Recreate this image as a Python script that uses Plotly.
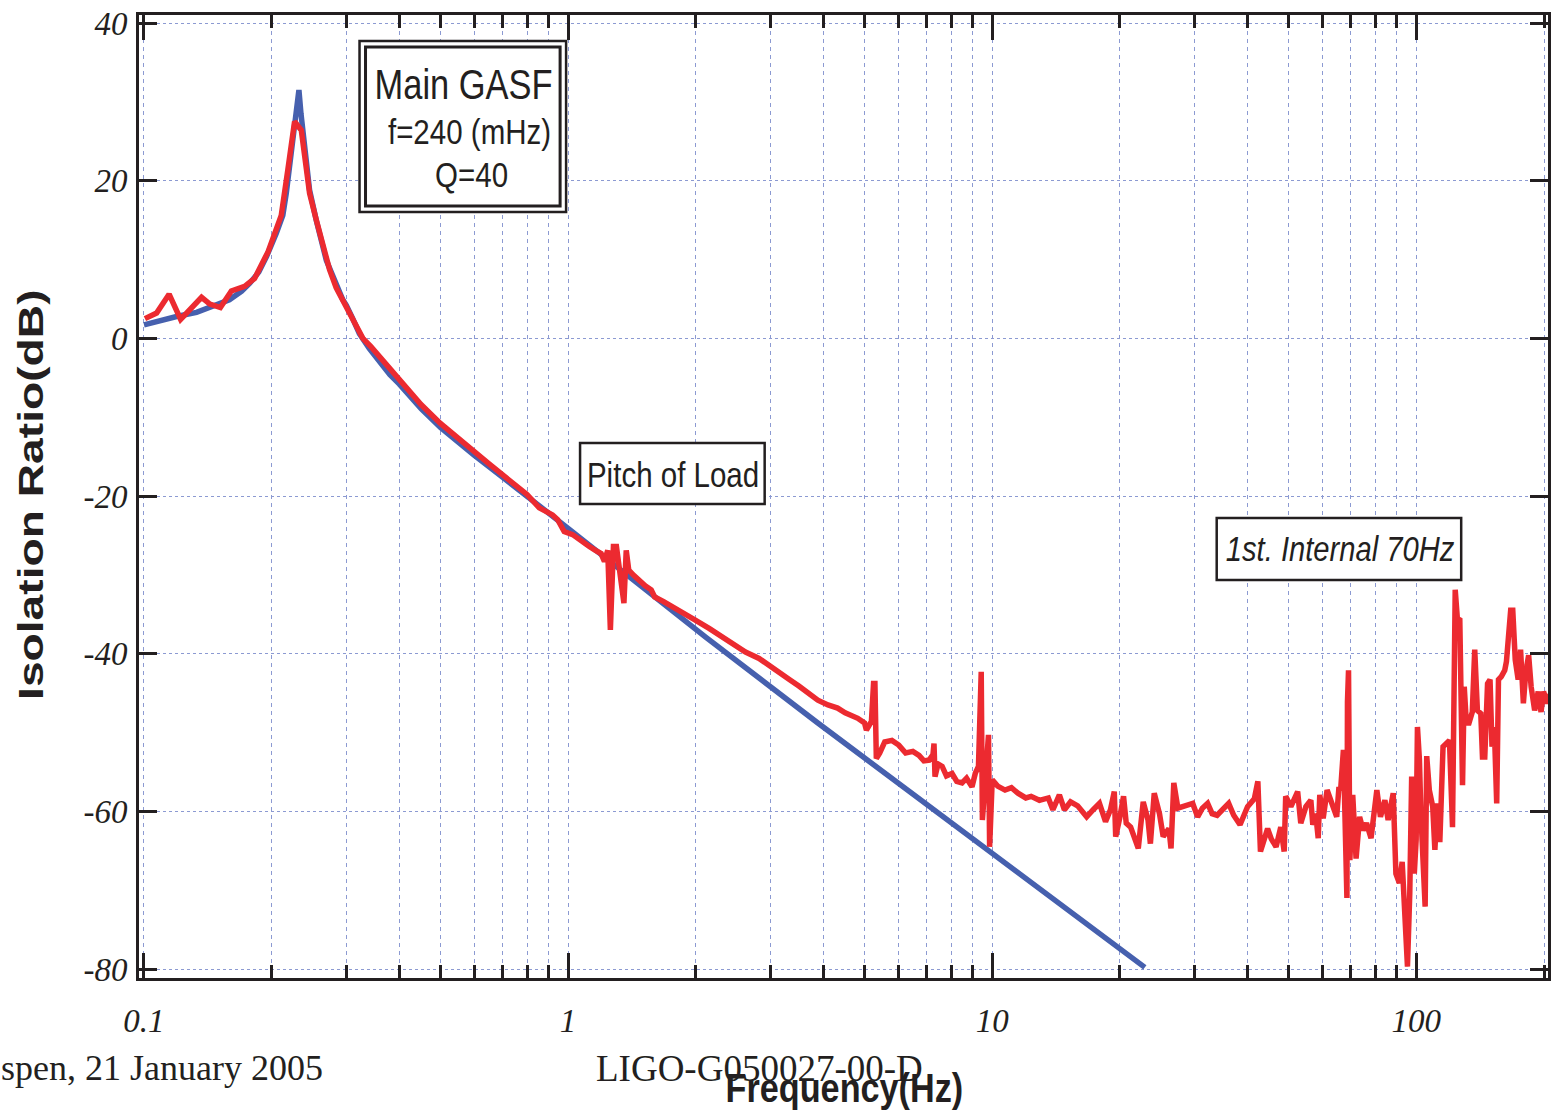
import json
import numpy as np
import plotly.graph_objects as go

# Model (theoretical) isolation ratio of the main GAS filter
model_freq = [0.1, 0.11, 0.12, 0.133, 0.145, 0.159, 0.17, 0.1776, 0.1865, 0.1946,
              0.205, 0.2125, 0.2165, 0.2245, 0.229, 0.2319, 0.2345, 0.2391, 0.2457,
              0.255, 0.2691, 0.2943, 0.3, 0.31, 0.322, 0.34, 0.353, 0.365, 0.38, 0.4,
              0.42, 0.45, 0.5, 0.55, 0.6, 0.7, 0.8, 0.9, 1.0, 1.5,
              2.11, 3.88, 6.0, 12.1, 22.9]
model_db = [1.7, 2.3, 2.8, 3.3, 4.0, 4.9, 6.0, 7.0, 8.4, 10.4,
            13.3, 15.6, 18.4, 24.7, 28.5, 31.5, 28.5, 24.0, 18.8,
            14.9, 9.9, 4.9, 4.2, 2.6, 0.6, -1.3, -2.4, -3.4, -4.6, -5.8,
            -7.1, -8.9, -11.3, -13.2, -14.8, -17.6, -20.1, -22.2, -24.1, -31.6,
            -37.9, -48.8, -56.4, -68.5, -79.8]

# Measured isolation ratio
meas_freq = [0.1005, 0.1071, 0.1146, 0.122, 0.1367, 0.143, 0.1514, 0.1607, 0.1727, 0.1823,
             0.1962, 0.2107, 0.2184, 0.2265, 0.2349, 0.2457, 0.2549, 0.2739, 0.284, 0.2943,
             0.3057, 0.316, 0.3281, 0.342, 0.356, 0.37, 0.3825, 0.40, 0.42, 0.45,
             0.50, 0.55, 0.60, 0.65, 0.70,
             0.75, 0.80, 0.855, 0.919, 0.945, 0.962, 0.979, 1.025, 1.07, 1.122,
             1.16, 1.196, 1.218, 1.24, 1.258, 1.279, 1.30, 1.318, 1.354, 1.371,
             1.39, 1.43, 1.465, 1.52, 1.57, 1.60, 1.68, 1.76, 1.88, 1.99,
             2.15, 2.30, 2.45, 2.62, 2.82, 3.02, 3.20, 3.33, 3.50, 3.67,
             3.88, 4.10, 4.32, 4.50, 4.65, 4.82, 5.00, 5.05, 5.19, 5.25,
             5.29, 5.33, 5.43, 5.58, 5.80, 6.02, 6.25, 6.50, 6.72, 6.90,
             7.10, 7.25, 7.29, 7.33, 7.45, 7.62, 7.80, 8.04, 8.25, 8.49,
             8.70, 8.96, 9.12, 9.28, 9.42, 9.48, 9.60, 9.80, 9.86, 10.0,
             10.3, 10.72, 11.1, 11.5, 12.0, 12.35, 12.92, 13.56, 13.9, 14.4,
             14.8, 15.3, 15.9, 16.7, 17.3, 17.9, 18.5, 19.0, 19.4, 19.55,
             19.97, 20.4, 20.7, 21.2, 22.1, 22.7, 23.3, 23.6, 24.1, 24.8,
             25.3, 26.1, 26.4, 26.8, 27.4, 28.4, 29.7, 30.5, 31.3, 32.2,
             33.0, 33.9, 35.0, 36.1, 37.1, 38.4, 40.0, 41.5, 42.3, 42.9,
             44.6, 45.5, 46.7, 47.9, 48.8, 49.2, 50.6, 52.5, 53.4, 54.9,
             56.4, 57.0, 57.9, 58.7, 59.2, 60.3, 61.6, 63.3, 64.9, 65.7,
             66.3, 67.3, 68.2, 68.6, 68.8, 69.2, 69.7, 70.8, 72.1, 73.5,
             74.9, 76.3, 78.2, 79.7, 80.7, 82.3, 84.3, 85.8, 88.2, 89.5,
             91.2, 92.6, 94.4, 95.3, 96.5, 97.5, 98.9, 99.9, 100.6, 101.7,
             102.5, 104.0, 104.9, 105.8, 107.3, 109.3, 110.6, 112.0, 113.6, 115.6,
             117.6, 119.7, 121.7, 123.5, 125.0, 126.6, 128.5, 129.7, 131.2, 133.1,
             135.5, 137.3, 139.3, 141.9, 143.2, 145.0, 147.2, 149.2, 150.8, 152.7,
             154.7, 156.2, 158.6, 161.6, 163.1, 166.9, 168.8, 171.1, 173.8, 176.1,
             178.8, 181.2, 184.0, 186.5, 190.1, 193.8, 196.8, 199.5, 203.4, 207.4]
meas_db = [2.5, 3.2, 5.6, 2.4, 5.2, 4.35, 3.9, 6.0, 6.6, 7.6,
           11.0, 15.6, 21.4, 27.5, 26.4, 18.4, 15.0, 8.7, 6.4, 4.9,
           3.2, 1.6, 0.0, -1.0, -2.1, -3.1, -4.1, -5.3, -6.6, -8.4,
           -10.8, -12.7, -14.5, -15.9, -17.3,
           -18.6, -19.8, -21.5, -22.4, -23.0, -23.9, -24.5, -24.9, -25.7, -26.4,
           -26.9, -27.3, -28.3, -26.9, -37.0, -26.4, -26.4, -29.0, -33.6, -26.9,
           -29.4, -30.1, -30.7, -31.4, -31.9, -32.8, -33.4, -34.0, -35.0, -35.7,
           -36.8, -37.8, -38.8, -39.8, -40.6, -41.8, -42.7, -43.3, -44.1, -44.9,
           -45.9, -46.5, -46.9, -47.5, -47.8, -48.2, -48.8, -49.7, -48.6, -43.8,
           -43.8, -53.3, -52.6, -51.2, -51.0, -51.6, -52.6, -52.4, -52.9, -53.6,
           -53.5, -52.8, -51.4, -55.6, -54.0, -54.3, -55.5, -55.2, -56.2, -56.4,
           -55.8, -56.9, -55.2, -54.3, -42.3, -61.1, -57.0, -50.3, -64.5, -56.0,
           -56.8, -57.3, -57.0, -57.7, -58.3, -58.1, -58.6, -58.3, -59.8, -57.9,
           -59.8, -58.8, -59.3, -60.7, -59.8, -59.0, -61.3, -59.8, -57.5, -63.2,
           -60.9, -58.1, -61.5, -62.0, -64.7, -58.8, -61.1, -64.1, -57.7, -60.3,
           -63.2, -62.2, -64.7, -56.4, -59.6, -59.4, -59.0, -60.7, -59.6, -59.0,
           -60.3, -60.5, -59.6, -59.0, -60.5, -61.7, -59.4, -58.4, -56.2, -65.1,
           -62.2, -63.5, -64.5, -62.0, -65.1, -58.1, -59.4, -57.5, -61.5, -59.4,
           -58.6, -61.7, -60.3, -63.4, -57.9, -60.9, -57.3, -59.0, -60.7, -56.9,
           -57.3, -52.2, -63.6, -71.0, -46.1, -42.1, -66.2, -57.9, -66.0, -60.7,
           -62.4, -61.5, -63.4, -59.4, -57.3, -60.7, -58.6, -61.1, -57.7, -67.9,
           -69.1, -66.4, -76.3, -79.7, -70.4, -55.6, -67.9, -63.6, -49.3, -53.5,
           -60.3, -69.1, -72.1, -53.0, -57.3, -59.4, -64.9, -59.0, -63.9, -51.8,
           -51.4, -51.0, -62.0, -31.9, -35.7, -35.5, -56.7, -44.2, -48.8, -48.8,
           -47.4, -39.5, -47.2, -47.6, -53.1, -53.1, -43.8, -43.3, -51.8, -49.3,
           -59.0, -43.3, -42.9, -42.1, -41.0, -34.5, -34.5, -40.8, -43.3, -39.5,
           -46.3, -42.3, -40.2, -44.2, -47.2, -44.8, -47.4, -44.8, -46.3, -45.0]

# Axis ticks
x_major = [0.1, 1, 10, 100]
x_major_text = ["0.1", "1", "10", "100"]
x_minor = [m * d for d in (0.1, 1, 10) for m in range(2, 10)] + [200]
y_major = [-80, -60, -40, -20, 0, 20, 40]
y_major_text = ["-80", "-60", "-40", "-20", "0", "20", "40"]

W, H = 1554, 1113
L, R, T, B = 139, 3, 15, 135
PW, PH = W - L - R, H - T - B

def px(x):
    return (x - L) / PW

def py(y):
    return (H - B - y) / PH

INK = "#231f20"
GRID = "#8c9ad2"
RED = "#ec2a30"
BLUE = "#4660ae"
SERIF = "Liberation Serif, Times New Roman, serif"
SANS = "Liberation Sans, Arial, sans-serif"

fig = go.Figure()
fig.add_trace(go.Scatter(x=model_freq, y=model_db, mode="lines",
                         line=dict(color=BLUE, width=5.5), hoverinfo="skip"))
fig.add_trace(go.Scatter(x=meas_freq, y=meas_db, mode="lines",
                         line=dict(color=RED, width=5.5), hoverinfo="skip"))

fig.update_layout(
    width=W, height=H,
    margin=dict(l=L, r=R, t=T, b=B, pad=0),
    paper_bgcolor="white", plot_bgcolor="white",
    showlegend=False,
    xaxis=dict(
        type="log",
        range=[np.log10(0.1) - 5 / 425, np.log10(200) + 4 / 425],
        tickmode="array", tickvals=x_major, ticktext=x_major_text,
        ticks="inside", ticklen=25, tickwidth=2.5, tickcolor=INK,
        showline=True, linewidth=3, linecolor=INK, mirror="ticks",
        showgrid=True, gridcolor=GRID, gridwidth=1, griddash="4px,4px",
        minor=dict(tickmode="array", tickvals=x_minor, ticks="inside", ticklen=13,
                   tickwidth=2.5, tickcolor=INK, showgrid=True, gridcolor=GRID,
                   gridwidth=1, griddash="4px,4px"),
        tickfont=dict(family=SERIF, size=33, color=INK, style="italic"),
        ticklabelstandoff=11,
        zeroline=False,
    ),
    yaxis=dict(
        range=[-80 - 9 / 7.883, 40 + 8 / 7.883],
        tickmode="array", tickvals=y_major, ticktext=y_major_text,
        ticks="inside", ticklen=18, tickwidth=2.5, tickcolor=INK,
        showline=True, linewidth=3, linecolor=INK, mirror="ticks",
        showgrid=True, gridcolor=GRID, gridwidth=1, griddash="3px,3px",
        tickfont=dict(family=SERIF, size=33, color=INK, style="italic"),
        ticklabelstandoff=2,
        zeroline=False,
    ),
)

shapes = []
# double-framed box around the GAS filter parameters
shapes.append(dict(type="rect", xref="paper", yref="paper",
                   x0=px(360), x1=px(567), y0=py(212), y1=py(41),
                   fillcolor="white", line=dict(color=INK, width=2.5)))
shapes.append(dict(type="rect", xref="paper", yref="paper",
                   x0=px(366), x1=px(561), y0=py(206), y1=py(47),
                   line=dict(color=INK, width=3)))
# single-frame label boxes
shapes.append(dict(type="rect", xref="paper", yref="paper",
                   x0=px(581), x1=px(766), y0=py(504), y1=py(443),
                   fillcolor="white", line=dict(color=INK, width=2.5)))
shapes.append(dict(type="rect", xref="paper", yref="paper",
                   x0=px(1219), x1=px(1464), y0=py(580), y1=py(518),
                   fillcolor="white", line=dict(color=INK, width=2.5)))
fig.update_layout(shapes=shapes)

def label(text, x, y, size, family=SANS, **kw):
    font = dict(family=family, size=size, color=INK)
    font.update(kw.pop("font", {}))
    fig.add_annotation(text=text, xref="paper", yref="paper", x=px(x), y=py(y),
                       showarrow=False, font=font, xanchor=kw.pop("xanchor", "center"),
                       yanchor="middle", **kw)

label("Main GASF", 464, 85, 42)
label("f=240 (mHz)", 470, 131, 36)
label("Q=40", 472, 175, 36)
label("Pitch of Load", 674, 474, 36)
label("1st. Internal 70Hz", 1343, 548, 36, font=dict(style="italic"))

label("Isolation Ratio(dB)", 30, 495, 35, textangle=-90, font=dict(weight="bold"))
label("spen, 21 January 2005", -1, 1068, 36, family=SERIF, xanchor="left")
label("LIGO-G050027-00-D", 761, 1068, 37, family=SERIF)
label("Frequency(Hz)", 846, 1088, 41, font=dict(weight="bold"))

# horizontal squeeze/stretch of the label glyphs (condensed / extended lettering)
glyph_scale = {
    "Main GASF": 0.82,
    "f=240 (mHz)": 0.82,
    "Q=40": 0.82,
    "Pitch of Load": 0.82,
    "1st. Internal 70Hz": 0.81,
    "Frequency(Hz)": 0.835,
    "Isolation Ratio(dB)": 1.32,
}
post = """
var gd = document.getElementById('{plot_id}');
var scales = %s;
gd.querySelectorAll('text.annotation-text').forEach(function(t) {
  var s = scales[t.textContent];
  if (!s) return;
  var b = t.getBBox();
  var cx = b.x + b.width / 2, cy = b.y + b.height / 2;
  t.setAttribute('transform', 'translate(' + cx + ',' + cy + ') scale(' + s +
                 ',1) translate(' + (-cx) + ',' + (-cy) + ')');
});
""" % json.dumps(glyph_scale)

fig.write_html("out.html", post_script=post)
